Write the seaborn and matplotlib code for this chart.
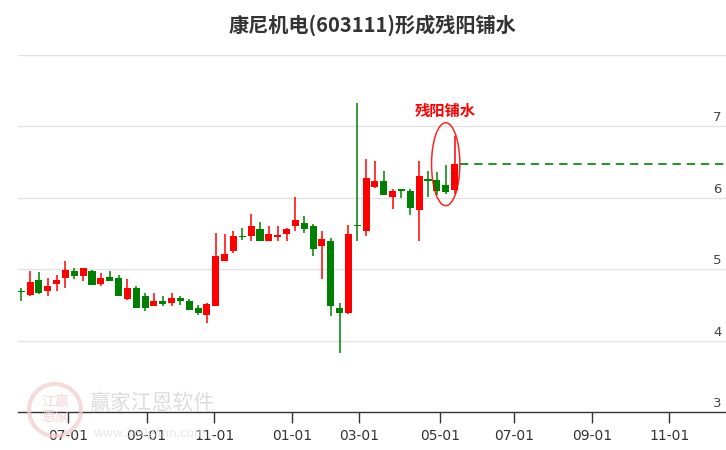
import matplotlib
matplotlib.use("Agg")
import matplotlib.pyplot as plt
from matplotlib.patches import Ellipse, Circle
import matplotlib.transforms as mtransforms
import seaborn as sns
import pandas as pd
import numpy as np

# ---- data (weekly candles) ----
opens = [4.70, 4.645, 4.85, 4.69, 4.80, 4.88, 4.98, 4.90, 4.98, 4.80,
         4.89, 4.88, 4.59, 4.74, 4.63, 4.49, 4.56, 4.53, 4.60, 4.56,
         4.46, 4.36, 4.49, 5.11, 5.25, 5.47, 5.46, 5.56, 5.39, 5.455,
         5.50, 5.60, 5.65, 5.61, 5.33, 5.395, 4.46, 4.39, 5.61, 5.54,
         6.15, 6.23, 6.01, 6.12, 6.10, 5.83, 6.26, 6.25, 6.18, 6.11]
closes = [4.68, 4.82, 4.67, 4.77, 4.85, 4.99, 4.91, 5.02, 4.785, 4.88,
          4.84, 4.62, 4.74, 4.46, 4.46, 4.55, 4.52, 4.60, 4.56, 4.43,
          4.39, 4.52, 5.19, 5.21, 5.47, 5.45, 5.61, 5.40, 5.49, 5.48,
          5.56, 5.69, 5.57, 5.29, 5.42, 4.48, 4.39, 5.49, 5.60, 6.27,
          6.23, 6.04, 6.10, 6.10, 5.86, 6.31, 6.23, 6.10, 6.08, 6.47]
highs = [4.74, 4.98, 4.96, 4.88, 4.92, 5.12, 5.02, 5.02, 4.99, 4.95,
         4.98, 4.92, 4.86, 4.77, 4.67, 4.67, 4.62, 4.67, 4.62, 4.59,
         4.50, 4.53, 5.51, 5.49, 5.54, 5.58, 5.77, 5.66, 5.60, 5.60,
         5.58, 6.01, 5.75, 5.64, 5.54, 5.44, 4.53, 5.62, 7.33, 6.54,
         6.51, 6.37, 6.12, 6.12, 6.12, 6.51, 6.37, 6.36, 6.46, 6.87]
lows = [4.55, 4.62, 4.66, 4.63, 4.69, 4.74, 4.87, 4.84, 4.785, 4.77,
        4.84, 4.62, 4.575, 4.46, 4.41, 4.48, 4.49, 4.48, 4.50, 4.43,
        4.36, 4.25, 4.49, 5.11, 5.23, 5.41, 5.40, 5.40, 5.39, 5.40,
        5.40, 5.54, 5.51, 5.19, 4.87, 4.34, 3.83, 4.38, 5.40, 5.46,
        6.14, 6.04, 5.84, 6.00, 5.76, 5.40, 6.01, 6.04, 6.05, 6.05]

tick_labels = ["07-01", "09-01", "11-01", "01-01", "03-01",
               "05-01", "07-01", "09-01", "11-01"]
tick_pos = [5.33, 14.18, 21.81, 30.61, 38.19, 47.36, 55.73, 64.58, 73.30]
y_labels = [3, 4, 5, 6, 7]
grid_levels = [4, 5, 6, 7, 8]

title = "康尼机电(603111)形成残阳铺水"
pattern_name = "残阳铺水"
watermark = "赢家江恩软件"
watermark_url = "www.360gann.com"

df = pd.DataFrame({"open": opens, "close": closes, "high": highs, "low": lows})
df["x"] = np.arange(len(df))
df["up"] = df["close"] >= df["open"]

RED = "#ff0000"
GREEN = "#008000"
CJK = ["Noto Sans CJK SC", "DejaVu Sans"]
NARROW = ["Liberation Sans Narrow", "DejaVu Sans"]

sns.set_theme(style="white")
plt.rcParams["font.family"] = CJK

fig = plt.figure(figsize=(7.26, 4.5), dpi=100)

# faint watermark (behind everything)
seal = Circle((55, 40), 26, fill=False, edgecolor="#f2cccc", lw=3, alpha=0.7,
              transform=mtransforms.IdentityTransform(), figure=fig, zorder=0)
fig.patches.append(seal)
fig.text(55 / 726, 40 / 450, "江赢\n恩家", ha="center", va="center",
         fontsize=10, color="#f2cccc", alpha=0.8, family=CJK, linespacing=1.0)
fig.text(152 / 726, 1 - 403 / 450, watermark, ha="center", va="center",
         fontsize=15, color="#d4d4d4", alpha=0.8, family=CJK)
fig.text(150 / 726, 1 - 433 / 450, watermark_url, ha="center", va="center",
         fontsize=9, color="#dddddd", alpha=0.7)

ax = fig.add_axes([18 / 726, 37.7 / 450, 708 / 726, 357.5 / 450])
ax.patch.set_alpha(0)
ax.set_xlim(-0.37, 79.7)
ax.set_ylim(3, 8)

for g in grid_levels:
    ax.axhline(g, color="#e2e2e2", lw=1, zorder=0)

colors = np.where(df["up"], RED, GREEN)
# wicks
ax.vlines(df["x"], df["low"], df["high"], colors=colors, lw=1.1, zorder=2)
# bodies
body_bottom = np.minimum(df["open"], df["close"])
body_height = np.maximum(np.abs(df["close"] - df["open"]), 0.022)
ax.bar(df["x"], body_height, bottom=body_bottom, width=0.8, color=colors,
       edgecolor=colors, linewidth=0, zorder=3)

# dashed level line from last close
last = df.iloc[-1]
sns.lineplot(x=[last["x"] + 0.6, 79.7], y=[last["close"], last["close"]], ax=ax,
             color=GREEN, lw=1.2, zorder=2)
ax.lines[-1].set_linestyle((0, (5, 3.5)))

# ellipse highlighting pattern
ax.add_patch(Ellipse((48.0, 6.47), 3.2, 1.16, fill=False, edgecolor=RED,
                     lw=1.1, alpha=0.85, zorder=4))
ax.text(47.9, 7.22, pattern_name, color=RED, fontsize=11, fontweight="bold",
        ha="center", va="center", family=CJK)

# axes styling
for s in ["top", "left", "right"]:
    ax.spines[s].set_visible(False)
ax.spines["bottom"].set_color("#333333")
ax.spines["bottom"].set_linewidth(1)
ax.set_yticks([])
ax.set_xticks(tick_pos)
ax.set_xticklabels(tick_labels, family=NARROW, fontsize=10, color="#333333")
ax.tick_params(axis="x", direction="out", length=8, width=1, color="#333333",
               pad=4, bottom=True)

trans = mtransforms.blended_transform_factory(ax.transAxes, ax.transData)
for v in y_labels:
    ax.text(0.994, v + 0.03, str(v), transform=trans, ha="right", va="bottom",
            fontsize=9.5, color="#444444", family=NARROW)

# title
fig.text(372 / 726, 1 - 25 / 450, title, ha="center", va="center",
         fontsize=14.5, fontweight="bold", color="#333333", family=CJK)

fig.savefig("out.png", dpi=100, facecolor="white")
